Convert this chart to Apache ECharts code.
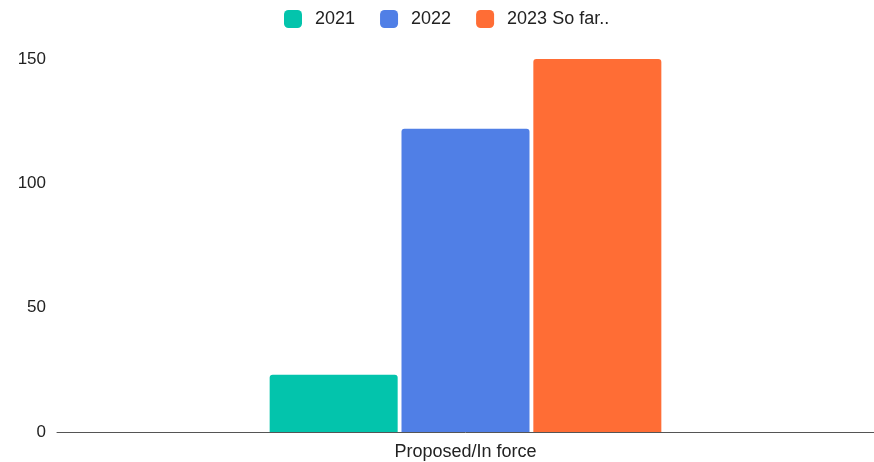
<!DOCTYPE html>
<html>
<head>
<meta charset="utf-8">
<script src="https://cdn.jsdelivr.net/npm/echarts@6/dist/echarts.min.js"></script>
<style>
html,body{margin:0;padding:0;background:#fff;}
#chart{width:874px;height:462px;}
</style>
</head>
<body>
<div id="chart"></div>
<script>
const categories = ['Proposed/In force'];
const seriesNames = ['2021', '2022', '2023 So far..'];
const values2021 = [23];
const values2022 = [122];
const values2023 = [150];
const colors = ['#03C4AC', '#507FE6', '#FF6D35'];

const chart = echarts.init(document.getElementById('chart'));
const allValues = [values2021, values2022, values2023];
chart.setOption({
  animation: false,
  color: colors,
  textStyle: { fontFamily: 'Arial, "Liberation Sans", sans-serif' },
  legend: {
    top: 5,
    left: 279,
    itemWidth: 18,
    itemHeight: 18,
    itemGap: 25,
    icon: 'roundRect',
    textStyle: { fontSize: 18, color: '#222', padding: [0, 0, 0, 8] },
    data: seriesNames
  },
  grid: { left: 57, right: -4, top: 59, bottom: 30, containLabel: false },
  xAxis: {
    type: 'category',
    data: categories,
    axisLine: { lineStyle: { color: '#555', width: 1 } },
    axisTick: { show: false },
    axisLabel: { fontSize: 18, color: '#222', margin: 11 }
  },
  yAxis: {
    type: 'value',
    min: 0,
    max: 150,
    interval: 50,
    splitLine: { show: false },
    axisLine: { show: false },
    axisTick: { show: false },
    axisLabel: { fontSize: 17, color: '#222', margin: 11 }
  },
  series: seriesNames.map((name, i) => ({
    name: name,
    type: 'bar',
    data: allValues[i],
    barWidth: 128,
    barGap: '3%',
    itemStyle: { borderRadius: [3, 3, 0, 0] }
  }))
});
</script>
</body>
</html>
